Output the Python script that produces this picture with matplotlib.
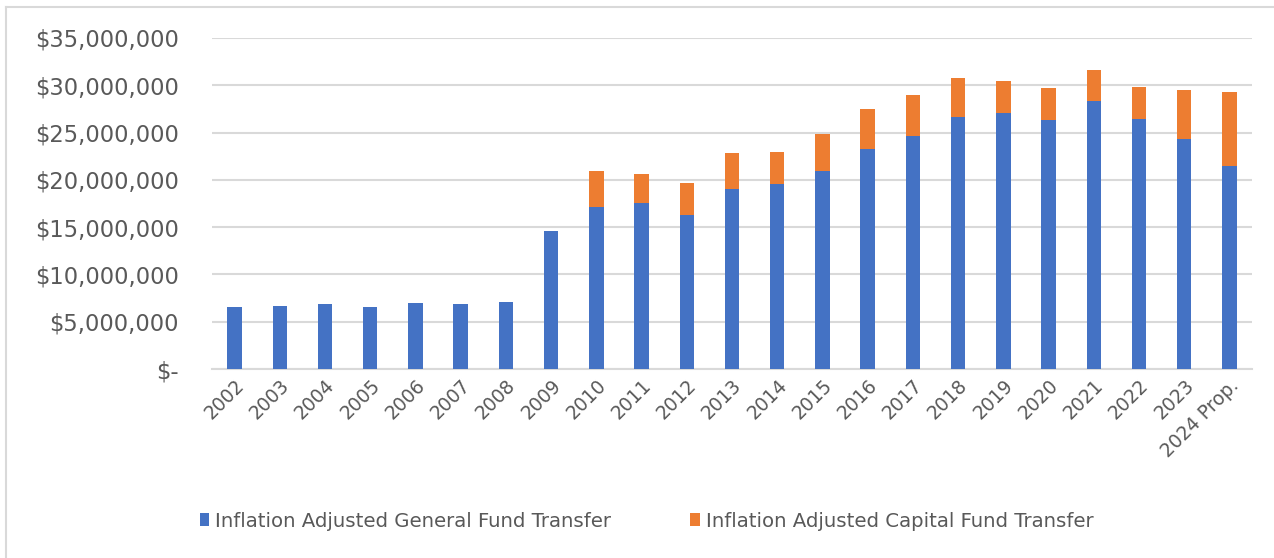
import matplotlib.pyplot as plt
import matplotlib.ticker as mticker
from matplotlib.lines import Line2D
import numpy as np

# Data (millions of dollars)
years = ['2002', '2003', '2004', '2005', '2006', '2007', '2008', '2009', '2010',
         '2011', '2012', '2013', '2014', '2015', '2016', '2017', '2018', '2019',
         '2020', '2021', '2022', '2023', '2024 Prop.']
general_fund = [6.54, 6.71, 6.86, 6.58, 6.97, 6.86, 7.10, 14.56, 17.13,
                17.55, 16.32, 19.03, 19.59, 20.93, 23.22, 24.59, 26.60, 27.02,
                26.34, 28.35, 26.45, 24.31, 21.46]
totals = [6.54, 6.71, 6.86, 6.58, 6.97, 6.86, 7.10, 14.56, 20.90,
          20.65, 19.66, 22.80, 22.93, 24.83, 27.44, 29.02, 30.78, 30.50,
          29.69, 31.59, 29.83, 29.45, 29.30]

general = np.array(general_fund) * 1e6
capital = (np.array(totals) - np.array(general_fund)) * 1e6

blue = '#4472C4'
orange = '#ED7D31'
text_gray = '#595959'
grid_gray = '#D9D9D9'

fig = plt.figure(figsize=(12.74, 5.58), dpi=100)
ax = fig.add_axes([212 / 1274, 1 - 369 / 558, 1040 / 1274, 331 / 558])

x = np.arange(len(years))
ax.bar(x, general, width=0.32, color=blue, label='Inflation Adjusted General Fund Transfer', zorder=3)
ax.bar(x, capital, width=0.32, bottom=general, color=orange,
       label='Inflation Adjusted Capital Fund Transfer', zorder=3)

ax.set_xlim(-0.5, len(years) - 0.5)
ax.set_ylim(0, 35e6)
ax.set_yticks(np.arange(0, 35e6 + 1, 5e6))


def money(v, pos):
    if v == 0:
        return '$-'
    return '${:,.0f}'.format(v)


ax.yaxis.set_major_formatter(mticker.FuncFormatter(money))
ax.grid(axis='y', color=grid_gray, linewidth=1.5, zorder=0)
for side in ['top', 'right', 'left']:
    ax.spines[side].set_visible(False)
ax.spines['bottom'].set_color(grid_gray)
ax.spines['bottom'].set_linewidth(1.5)
ax.tick_params(axis='both', length=0, colors=text_gray)
ax.tick_params(axis='y', labelsize=16.3, pad=24)
ax.set_xticks(x)
ax.set_xticklabels(years, rotation=45, ha='right', rotation_mode='anchor', fontsize=13.5)
ax.tick_params(axis='x', pad=5)

leg = fig.legend(loc='center', bbox_to_anchor=(0.5075, 0.066), ncol=2, frameon=False,
                 fontsize=14.2, handlelength=0.5, handleheight=0.6, columnspacing=4.0,
                 handletextpad=0.3)
for t in leg.get_texts():
    t.set_color(text_gray)

# outer chart border (only top and left edges show in the crop)
fig.lines.append(Line2D([6 / 1274, 6 / 1274], [0, 1 - 7 / 558], transform=fig.transFigure,
                        color=grid_gray, linewidth=1.5))
fig.lines.append(Line2D([6 / 1274, 1], [1 - 7 / 558, 1 - 7 / 558], transform=fig.transFigure,
                        color=grid_gray, linewidth=1.5))

fig.savefig('out.png', dpi=100)
